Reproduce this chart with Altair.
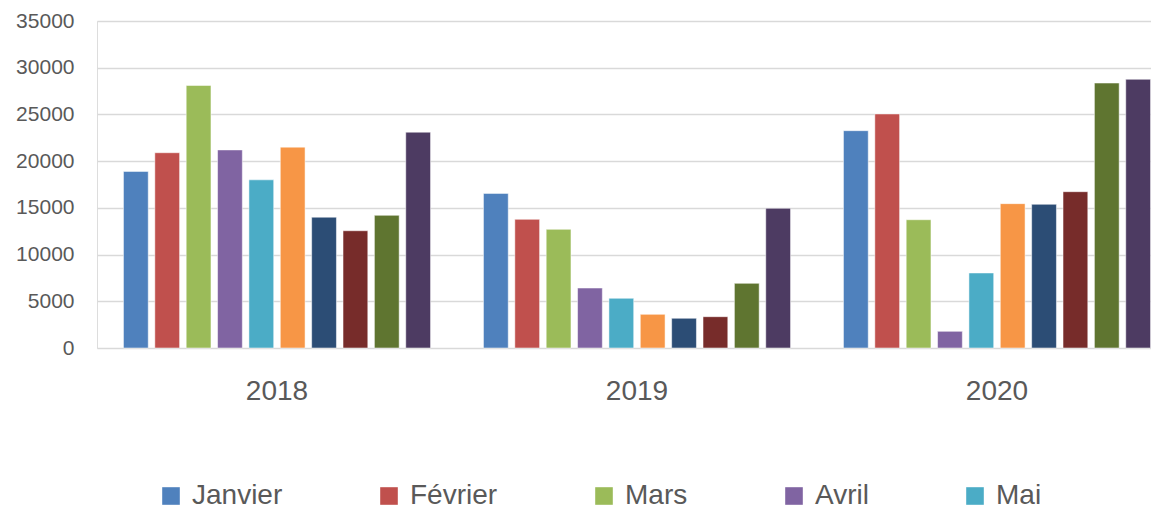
import altair as alt
import pandas as pd

years = ["2018", "2019", "2020"]
months = ["Janvier", "Février", "Mars", "Avril", "Mai",
          "Juin", "Juillet", "Août", "Septembre", "Octobre"]
colors = ["#4F81BD", "#C0504D", "#9BBB59", "#8064A2", "#4BACC6",
          "#F79646", "#2C4D75", "#772C2A", "#5F7530", "#4D3B62"]
v2018 = [18900, 20900, 28100, 21200, 18000, 21500, 14000, 12550, 14200, 23100]
v2019 = [16550, 13770, 12700, 6420, 5320, 3600, 3180, 3350, 6920, 14950]
v2020 = [23260, 25050, 13730, 1780, 8030, 15450, 15380, 16730, 28360, 28760]
legend_shown = ["Janvier", "Février", "Mars", "Avril", "Mai"]

rows = []
for yr, vals in zip(years, [v2018, v2019, v2020]):
    for m, v in zip(months, vals):
        rows.append({"annee": yr, "mois": m, "valeur": v})
df = pd.DataFrame(rows)

FONT = "Liberation Sans"
GREY = "#595959"

chart = alt.Chart(df).mark_bar(
    stroke="white", strokeOpacity=0.5, strokeWidth=1
).encode(
    x=alt.X("annee:N", sort=years, title=None,
            scale=alt.Scale(range=[0, 1080], paddingInner=0.147, paddingOuter=0.0735),
            axis=alt.Axis(labelAngle=0, labelFontSize=28, labelColor=GREY, labelFont=FONT,
                          ticks=False, tickSize=0, domain=False, labelPadding=29, grid=False)),
    xOffset=alt.XOffset("mois:N", sort=months,
                        scale=alt.Scale(paddingInner=0.21, paddingOuter=0)),
    y=alt.Y("valeur:Q", title=None,
            scale=alt.Scale(domain=[0, 35000], nice=False),
            axis=alt.Axis(values=list(range(0, 35001, 5000)), format="d", labelFontSize=21,
                          labelColor=GREY, labelFont=FONT, ticks=False, tickSize=0,
                          domain=False, labelPadding=23,
                          grid=True, gridColor="#d9d9d9", gridWidth=1.3)),
    color=alt.Color("mois:N", sort=months,
                    scale=alt.Scale(domain=months, range=colors),
                    legend=alt.Legend(title=None, values=legend_shown, orient="none",
                                      direction="horizontal", legendX=60, legendY=461,
                                      symbolType="square", symbolSize=310, symbolStrokeWidth=0,
                                      symbolOpacity=1, labelFontSize=28, labelColor=GREY,
                                      labelFont=FONT, labelOffset=7, columnPadding=92,
                                      padding=0, labelLimit=300)),
).properties(
    width=1054, height=327,
    autosize=alt.AutoSizeParams(type="none"),
    padding={"left": 89, "top": 13, "right": 0, "bottom": 162},
).configure_view(stroke=None).configure(background="white")

chart.save("out.html", embed_options={"renderer": "svg", "actions": False})
